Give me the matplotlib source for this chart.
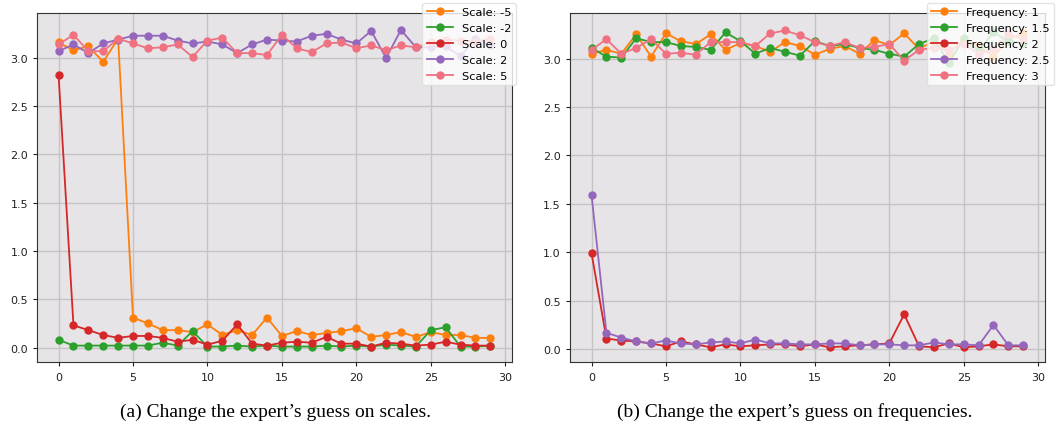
import matplotlib
matplotlib.use("Agg")
import matplotlib.pyplot as plt

steps = list(range(30))

# (a) expert's guess on scales
scale_labels = ["Scale: -5", "Scale: -2", "Scale: 0", "Scale: 2", "Scale: 5"]
scale_m5 = [3.16, 3.08, 3.12, 2.96, 3.20, 0.31, 0.25, 0.18, 0.18, 0.16,
            0.24, 0.13, 0.18, 0.13, 0.31, 0.12, 0.17, 0.13, 0.15, 0.17,
            0.20, 0.11, 0.13, 0.16, 0.11, 0.16, 0.13, 0.13, 0.10, 0.10]
scale_m2 = [0.08, 0.02, 0.02, 0.02, 0.02, 0.02, 0.02, 0.05, 0.02, 0.17,
            0.01, 0.01, 0.02, 0.01, 0.02, 0.01, 0.01, 0.01, 0.02, 0.01,
            0.02, 0.01, 0.03, 0.02, 0.01, 0.18, 0.21, 0.01, 0.01, 0.02]
scale_0 = [2.82, 0.23, 0.18, 0.13, 0.10, 0.12, 0.12, 0.10, 0.06, 0.08,
           0.03, 0.07, 0.24, 0.04, 0.02, 0.05, 0.06, 0.05, 0.11, 0.04,
           0.04, 0.01, 0.05, 0.04, 0.02, 0.03, 0.06, 0.03, 0.02, 0.02]
scale_2 = [3.07, 3.14, 3.05, 3.15, 3.19, 3.23, 3.23, 3.23, 3.18, 3.15,
           3.17, 3.14, 3.05, 3.14, 3.19, 3.18, 3.17, 3.23, 3.25, 3.19,
           3.15, 3.28, 3.00, 3.29, 3.11, 3.11, 3.12, 3.02, 3.20, 3.13]
scale_5 = [3.14, 3.24, 3.07, 3.07, 3.20, 3.15, 3.10, 3.11, 3.14, 3.01,
           3.18, 3.21, 3.05, 3.05, 3.03, 3.24, 3.10, 3.06, 3.15, 3.16,
           3.10, 3.13, 3.08, 3.13, 3.11, 3.16, 3.19, 3.18, 3.17, 3.20]

# (b) expert's guess on frequencies
freq_labels = ["Frequency: 1", "Frequency: 1.5", "Frequency: 2", "Frequency: 2.5", "Frequency: 3"]
freq_1 = [3.05, 3.09, 3.05, 3.25, 3.02, 3.26, 3.18, 3.15, 3.25, 3.09,
          3.16, 3.13, 3.07, 3.17, 3.13, 3.04, 3.10, 3.13, 3.05, 3.19,
          3.14, 3.26, 3.10, 3.18, 3.05, 3.20, 3.13, 3.02, 3.20, 3.26]
freq_15 = [3.11, 3.02, 3.01, 3.21, 3.17, 3.17, 3.13, 3.12, 3.09, 3.27,
           3.18, 3.05, 3.11, 3.07, 3.03, 3.18, 3.13, 3.15, 3.11, 3.09,
           3.05, 3.02, 3.15, 3.21, 2.95, 3.21, 3.08, 3.27, 3.18, 3.16]
freq_2 = [0.99, 0.11, 0.09, 0.08, 0.06, 0.03, 0.08, 0.05, 0.02, 0.05,
          0.03, 0.04, 0.05, 0.05, 0.03, 0.05, 0.02, 0.03, 0.04, 0.05,
          0.06, 0.36, 0.03, 0.02, 0.06, 0.02, 0.03, 0.05, 0.03, 0.03]
freq_25 = [1.59, 0.17, 0.12, 0.08, 0.06, 0.09, 0.06, 0.05, 0.07, 0.08,
           0.06, 0.10, 0.06, 0.06, 0.05, 0.05, 0.06, 0.06, 0.04, 0.05,
           0.05, 0.04, 0.04, 0.07, 0.05, 0.05, 0.04, 0.25, 0.04, 0.04]
freq_3 = [3.09, 3.20, 3.05, 3.11, 3.20, 3.05, 3.06, 3.04, 3.17, 3.17,
          3.17, 3.13, 3.26, 3.29, 3.24, 3.17, 3.13, 3.17, 3.11, 3.12,
          3.15, 2.98, 3.09, 3.11, 3.09, 3.15, 3.05, 3.10, 3.25, 3.20]

colors = ["#ff7f0e", "#2ca02c", "#d62728", "#9467bd", "#f07181"]
captions = ["(a) Change the expert\u2019s guess on scales.",
            "(b) Change the expert\u2019s guess on frequencies."]

fig = plt.figure(figsize=(10.6, 4.39), dpi=100)
ax_a = fig.add_axes([0.0349, 0.172, 0.448, 0.796])
ax_b = fig.add_axes([0.5377, 0.172, 0.448, 0.796])

panels = [
    (ax_a, [scale_m5, scale_m2, scale_0, scale_2, scale_5], scale_labels, (-0.155, 3.465), 1.008),
    (ax_b, [freq_1, freq_15, freq_2, freq_25, freq_3], freq_labels, (-0.137, 3.47), 1.02),
]

for ax, series, labels, ylim, lx in panels:
    ax.set_facecolor("#e6e4e6")
    ax.set_axisbelow(True)
    ax.grid(True, color="#c4c4c4", linewidth=1.0)
    for vals, lab, c in zip(series, labels, colors):
        ax.plot(steps, vals, "-o", color=c, label=lab, markersize=5, linewidth=1.3)
    ax.set_xlim(-1.45, 30.45)
    ax.set_ylim(*ylim)
    ax.set_xticks([0, 5, 10, 15, 20, 25, 30])
    ax.set_yticks([0.0, 0.5, 1.0, 1.5, 2.0, 2.5, 3.0])
    ax.tick_params(labelsize=8, colors="#222222", length=3)
    for sp in ax.spines.values():
        sp.set_color("#333333")
    leg = ax.legend(loc="upper right", bbox_to_anchor=(lx, 1.03), borderaxespad=0,
                    fontsize=8.2, framealpha=0.8, fancybox=True,
                    handlelength=2.25, labelspacing=0.52)
    leg.get_frame().set_edgecolor("#dddddd")

fig.text(0.26, 0.061, captions[0], ha="center", va="center",
         fontsize=14, family="Liberation Serif")
fig.text(0.75, 0.061, captions[1], ha="center", va="center",
         fontsize=14, family="Liberation Serif")

fig.savefig("out.png", dpi=100)
